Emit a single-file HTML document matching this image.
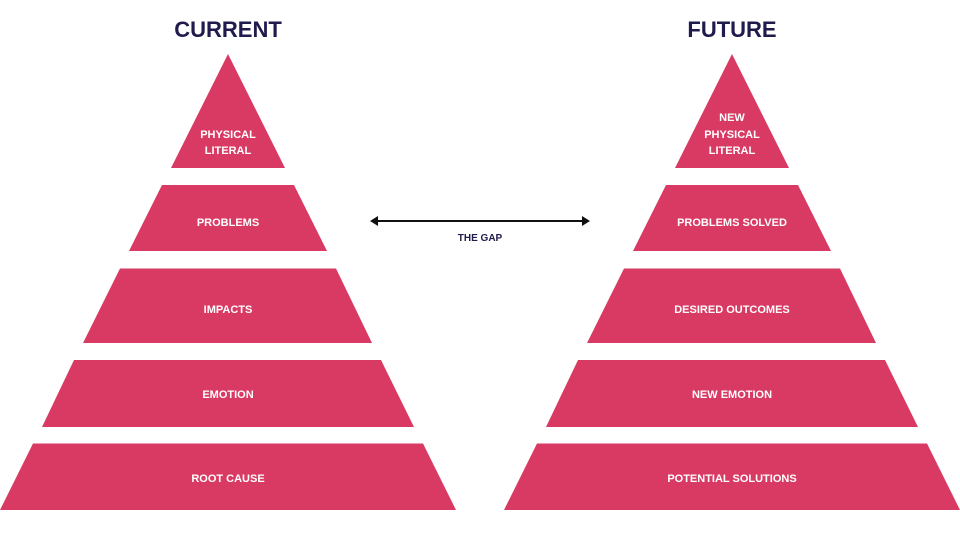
<!DOCTYPE html>
<html><head><meta charset="utf-8"><style>
html,body{margin:0;padding:0;background:#fff;}
svg{display:block;}
text{font-family:"Liberation Sans",sans-serif;font-weight:bold;}
</style></head><body>
<svg width="960" height="540" viewBox="0 0 960 540" xmlns="http://www.w3.org/2000/svg">
<g id="L" fill="#D93A63">
<polygon points="228,54 285,168 171,168"/>
<polygon points="162,185 294,185 327,251 129,251"/>
<polygon points="120,268.5 336,268.5 372,343 83,343"/>
<polygon points="74,360 381,360 414,427 42,427"/>
<polygon points="33,443.5 423,443.5 456,510 0,510"/>
</g>
<use href="#L" transform="translate(504,0)"/>
<g fill="#fff" font-size="11" text-anchor="middle">
<text x="228" y="138">PHYSICAL</text>
<text x="228" y="154">LITERAL</text>
<text x="228" y="226">PROBLEMS</text>
<text x="228" y="313">IMPACTS</text>
<text x="228" y="398">EMOTION</text>
<text x="228" y="482">ROOT CAUSE</text>
<text x="732" y="121">NEW</text>
<text x="732" y="138">PHYSICAL</text>
<text x="732" y="154">LITERAL</text>
<text x="732" y="226">PROBLEMS SOLVED</text>
<text x="732" y="313">DESIRED OUTCOMES</text>
<text x="732" y="398">NEW EMOTION</text>
<text x="732" y="482">POTENTIAL SOLUTIONS</text>
</g>
<g fill="#1F1B4D" font-size="22" text-anchor="middle">
<text x="228" y="37">CURRENT</text>
<text x="732" y="37">FUTURE</text>
</g>
<line x1="376" y1="221" x2="584" y2="221" stroke="#111" stroke-width="2"/>
<polygon points="370,221 378,216 378,226" fill="#111"/>
<polygon points="590,221 582,216 582,226" fill="#111"/>
<text x="480" y="241" font-size="10" fill="#1F1B4D" text-anchor="middle">THE GAP</text>
</svg>
</body></html>
